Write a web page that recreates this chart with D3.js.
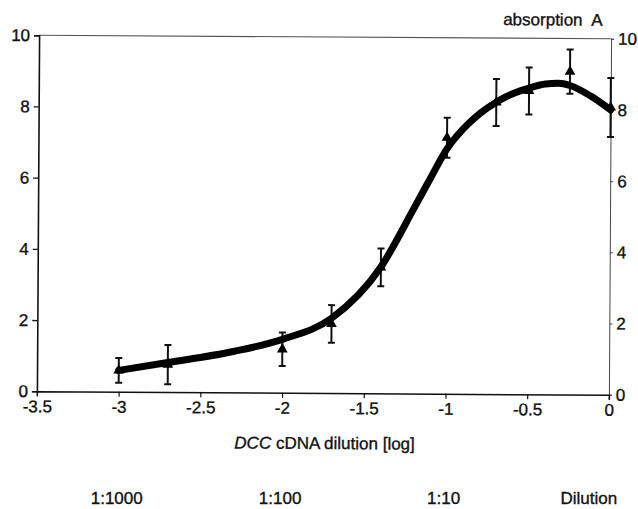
<!DOCTYPE html>
<html><head><meta charset="utf-8">
<script src="https://cdn.jsdelivr.net/npm/d3@7"></script>
<style>
html,body{margin:0;padding:0;background:#fff;}
text{font-family:"Liberation Sans",Arial,Helvetica,sans-serif;fill:#111;stroke:#111;stroke-width:0.35px;}
</style></head>
<body><svg id="c" width="638" height="509"></svg>
<script>
// measured data points (log dilution, absorption)
const xVals = [-3, -2.7, -2, -1.7, -1.4, -1, -0.7, -0.5, -0.25, 0];
const means = [0.6, 0.77, 1.22, 1.94, 3.54, 7.19, 8.19, 8.52, 9.07, 8.07];
const errs  = [0.35, 0.55, 0.47, 0.53, 0.53, 0.56, 0.66, 0.66, 0.62, 0.83];
// fitted curve
const fitX = [-3, -2.7, -2.3, -2, -1.7, -1.4, -1.2, -1.1, -1, -0.9, -0.8, -0.7, -0.6, -0.5, -0.4, -0.32, -0.25, -0.12, 0];
const fitY = [0.6, 0.83, 1.15, 1.5, 2.1, 3.55, 5.2, 6.05, 6.88, 7.45, 7.88, 8.2, 8.44, 8.6, 8.72, 8.74, 8.68, 8.38, 8.0];
const xTicks = [-3.5, -3, -2.5, -2, -1.5, -1, -0.5, 0];
const yTicks = [0, 2, 4, 6, 8, 10];
const dilutionLabels = ["1:1000", "1:100", "1:10"];
const dilutionPos = [-3, -2, -1];

const W = 638, H = 509;
const m = {left: 38, right: 28, top: 37, bottom: 116};
const svg = d3.select("#c");
const g = svg.append("g").attr("transform", "rotate(0.35 324 215)");

const x = d3.scaleLinear().domain([-3.5, 0]).range([m.left, W - m.right]);
const y = d3.scaleLinear().domain([0, 10]).range([H - m.bottom, m.top]);

// top frame line (thin, grey)
g.append("line").attr("x1", x(-3.5)).attr("x2", x(0)).attr("y1", y(10)).attr("y2", y(10))
  .attr("stroke", "#555").attr("stroke-width", 1.1);

// left axis
const ya = g.append("g").attr("transform", `translate(${x(-3.5)},0)`)
  .call(d3.axisLeft(y).tickValues(yTicks).tickSize(5).tickPadding(4).tickFormat(d3.format("d")));
ya.select(".domain").attr("stroke", "#111").attr("stroke-width", 1.6);
ya.selectAll(".tick line").attr("stroke", "#111").attr("stroke-width", 1.3);
ya.selectAll("text").attr("font-size", 17).attr("fill", "#111");

// right axis
const yb = g.append("g").attr("transform", `translate(${x(0)},0)`)
  .call(d3.axisRight(y).tickValues(yTicks).tickSize(3).tickPadding(4).tickFormat(d3.format("d")));
yb.select(".domain").attr("stroke", "#444").attr("stroke-width", 1);
yb.selectAll(".tick line").attr("stroke", "#444").attr("stroke-width", 1);
yb.selectAll("text").attr("font-size", 17).attr("fill", "#111");

// bottom axis
const xa = g.append("g").attr("transform", `translate(0,${y(0)})`)
  .call(d3.axisBottom(x).tickValues(xTicks).tickSize(5).tickPadding(4).tickFormat(d => String(d)));
xa.select(".domain").attr("stroke", "#111").attr("stroke-width", 1.5);
xa.selectAll(".tick line").attr("stroke", "#111").attr("stroke-width", 1.2);
xa.selectAll("text").attr("font-size", 17).attr("fill", "#111");

// error bars
const pts = xVals.map((v, i) => ({x: v, m: means[i], e: errs[i]}));
const eb = g.append("g").attr("stroke", "#111").attr("stroke-width", 2);
pts.forEach(p => {
  eb.append("line").attr("x1", x(p.x)).attr("x2", x(p.x)).attr("y1", y(p.m - p.e)).attr("y2", y(p.m + p.e));
  [p.m - p.e, p.m + p.e].forEach(v => {
    eb.append("line").attr("x1", x(p.x) - 3.5).attr("x2", x(p.x) + 3.5).attr("y1", y(v)).attr("y2", y(v));
  });
});

// fitted curve
const fit = fitX.map((v, i) => [v, fitY[i]]);
g.append("path").datum(fit)
  .attr("fill", "none").attr("stroke", "#000").attr("stroke-width", 7).attr("stroke-linecap", "round")
  .attr("d", d3.line().x(d => x(d[0])).y(d => y(d[1])).curve(d3.curveMonotoneX));

// triangle markers
g.append("g").selectAll("path").data(pts).join("path")
  .attr("transform", d => `translate(${x(d.x)},${y(d.m)})`)
  .attr("d", d3.symbol(d3.symbolTriangle, 50)())
  .attr("fill", "#000");

// labels
g.append("text").attr("x", 502).attr("y", 24).attr("font-size", 17).attr("word-spacing", 5)
  .text("absorption A");

const t = g.append("text").attr("x", (x(-3.5) + x(0)) / 2 + 2).attr("y", 449)
  .attr("text-anchor", "middle").attr("font-size", 17);
t.append("tspan").attr("font-style", "italic").text("DCC");
t.append("tspan").text(" cDNA dilution [log]");

// dilution row (outside rotated group to stay inside the picture)
svg.append("g").selectAll("text").data(dilutionLabels).join("text")
  .attr("x", (d, i) => x(dilutionPos[i]) - 3).attr("y", 504)
  .attr("text-anchor", "middle").attr("font-size", 17).text(d => d);
svg.append("text").attr("x", x(-0.13)).attr("y", 504).attr("text-anchor", "middle")
  .attr("font-size", 17).text("Dilution");
</script></body></html>
